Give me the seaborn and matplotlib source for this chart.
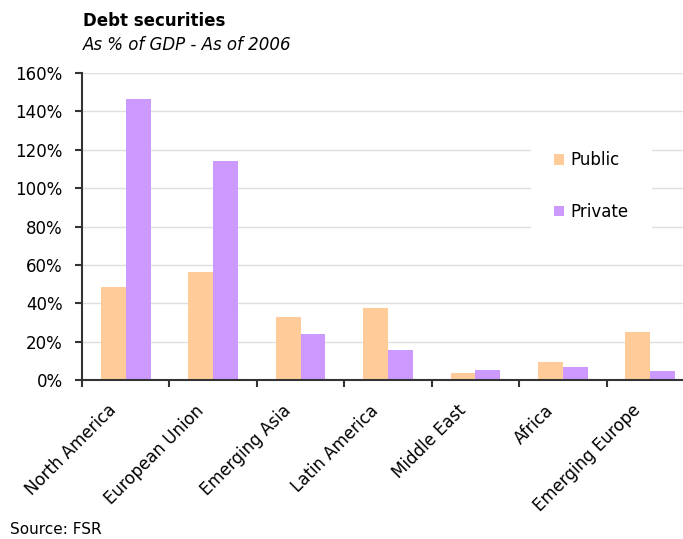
import matplotlib
matplotlib.use("Agg")
import matplotlib.pyplot as plt
import matplotlib.transforms as mtransforms
import seaborn as sns
import pandas as pd
import numpy as np
from matplotlib.ticker import FuncFormatter, FixedLocator
from matplotlib.patches import Patch

regions = ["North America", "European Union", "Emerging Asia", "Latin America",
           "Middle East", "Africa", "Emerging Europe"]
public = [48.5, 56.3, 32.8, 37.5, 3.6, 9.4, 25.0]
private = [146.4, 114.1, 24.0, 15.6, 5.2, 6.8, 4.7]
series = ["Public", "Private"]
colors = ["#FFCC99", "#CC99FF"]
yticks = [0, 20, 40, 60, 80, 100, 120, 140, 160]

df = pd.DataFrame({"Region": regions * 2,
                   "Series": ["Public"] * len(regions) + ["Private"] * len(regions),
                   "Value": public + private})

sns.set_theme(style="white")
plt.rcParams["font.family"] = ["DejaVu Sans"]
plt.rcParams["text.color"] = "black"

fig = plt.figure(figsize=(6.83, 5.39), dpi=100)
ax = fig.add_axes([82 / 683, 1 - 380 / 539, (694 - 82) / 683, (380 - 73) / 539])

sns.barplot(data=df, x="Region", y="Value", hue="Series", order=regions,
            hue_order=series, palette=colors, width=0.57, saturation=1,
            linewidth=0, ax=ax, legend=False)

ax.set_xlim(-0.5, len(regions) - 0.5)
ax.set_ylim(0, 160)
ax.set_yticks(yticks)
ax.yaxis.set_major_formatter(FuncFormatter(lambda v, p: f"{v:.0f}%"))
ax.grid(axis="y", color="#DFDFDF", linewidth=1)
ax.set_axisbelow(True)
for s in ["top", "right"]:
    ax.spines[s].set_visible(False)
for s in ["left", "bottom"]:
    ax.spines[s].set_color("#333333")
    ax.spines[s].set_linewidth(1.5)

ax.set_xticks(range(len(regions)))
ax.set_xticklabels(regions, rotation=45, ha="right", va="center",
                   rotation_mode="anchor", fontsize=12)
ax.xaxis.set_minor_locator(FixedLocator(np.arange(-0.5, len(regions), 1.0)))
ax.tick_params(axis="x", which="major", length=0, pad=20)
ax.tick_params(axis="x", which="minor", length=5, width=1.5, color="#333333", bottom=True)
ax.tick_params(axis="y", length=5, width=1.5, color="#333333", left=True, labelsize=12, pad=9)
shift = mtransforms.ScaledTranslation(-12 / 100, 0, fig.dpi_scale_trans)
for lab in ax.get_xticklabels():
    lab.set_transform(lab.get_transform() + shift)
for lab in ax.get_xticklabels() + ax.get_yticklabels():
    lab.set_color("black")
ax.set_xlabel("")
ax.set_ylabel("")

handles = [Patch(facecolor=c, edgecolor="none") for c in colors]
leg = fig.legend(handles, series, loc="upper left",
                 bbox_to_anchor=(531 / 683, 1 - 128 / 539),
                 frameon=True, facecolor="white", edgecolor="none",
                 fontsize=12, labelspacing=2.0, handlelength=0.6, handleheight=0.6,
                 handletextpad=0.35, borderpad=1.4, borderaxespad=0, fancybox=False)
leg.get_frame().set_alpha(1)
for t in leg.get_texts():
    t.set_color("black")

fig.text(83 / 683, 1 - 21 / 539, "Debt securities", fontsize=12, fontweight="bold",
         va="center", ha="left", color="black")
fig.text(83 / 683, 1 - 45 / 539, "As % of GDP - As of 2006", fontsize=12,
         fontstyle="italic", va="center", ha="left", color="black")
fig.text(10 / 683, 1 - 530 / 539, "Source: FSR", fontsize=11, va="center", ha="left",
         color="black")

fig.savefig("out.png", dpi=100)
